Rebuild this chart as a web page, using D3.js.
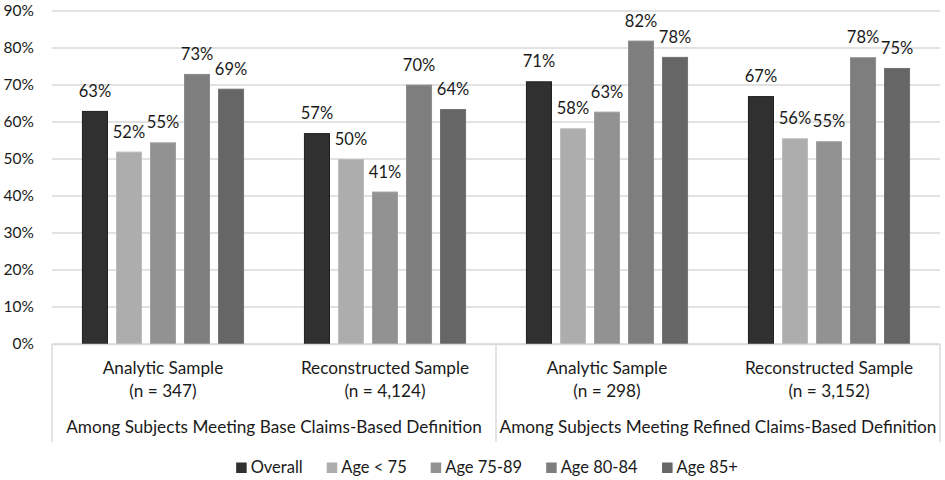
<!DOCTYPE html>
<html>
<head>
<meta charset="utf-8">
<script src="https://cdn.jsdelivr.net/npm/d3@7"></script>
<style>
  html, body { margin: 0; padding: 0; background: #fff; }
  svg { display: block; }
  text { font-family: "Lato", "Open Sans", sans-serif; fill: #1a1a1a; }
</style>
</head>
<body>
<svg id="chart" width="945" height="480"></svg>
<script>
// ---- Data ----
const sampleNames = ["Analytic Sample", "Reconstructed Sample", "Analytic Sample", "Reconstructed Sample"];
const sampleNs = ["(n = 347)", "(n = 4,124)", "(n = 298)", "(n = 3,152)"];
const groupLabels = ["Among Subjects Meeting Base Claims-Based Definition", "Among Subjects Meeting Refined Claims-Based Definition"];
const seriesNames = ["Overall", "Age < 75", "Age 75-89", "Age 80-84", "Age 85+"];
const overall  = [63, 57, 71, 67];
const ageLt75  = [52, 50, 58.3, 55.6];
const age7589  = [54.5, 41.2, 62.8, 54.8];
const age8084  = [73, 70.1, 82, 77.5];
const age85    = [69, 63.5, 77.6, 74.6];
const yTicks = [0, 10, 20, 30, 40, 50, 60, 70, 80, 90];
const seriesColors = ["#303030", "#adadad", "#929292", "#7e7e7e", "#666666"];
const seriesStroke = ["#1e1e1e", "#bcbcbc", "#a0a0a0", "#8c8c8c", "#727272"];

const seriesValues = [overall, ageLt75, age7589, age8084, age85];
const catIdx = d3.range(sampleNames.length);

// ---- Layout ----
const svg = d3.select("#chart");
const mLeft = 52, mRight = 940, mTop = 11, mBase = 344;

const y = d3.scaleLinear().domain([0, 90]).range([mBase, mTop]);
const x0 = d3.scaleBand().domain(catIdx).range([mLeft, mRight]).paddingInner(0).paddingOuter(0);
const x1 = d3.scaleBand().domain(seriesNames).range([0, x0.bandwidth()]).paddingInner(0.235).paddingOuter(0.88);

// gridlines
svg.append("g").selectAll("line").data(yTicks).join("line")
  .attr("x1", mLeft).attr("x2", mRight)
  .attr("y1", d => y(d)).attr("y2", d => y(d))
  .attr("stroke", "#d9d9d9").attr("stroke-width", 1.4);

// y axis labels
const yAxis = d3.axisLeft(y).tickValues(yTicks).tickFormat(d => d + "%").tickSize(0).tickPadding(0);
const yg = svg.append("g").attr("transform", `translate(${mLeft - 18},0)`).call(yAxis);
yg.select(".domain").remove();
yg.selectAll("text").attr("font-size", 15.5).attr("fill", "#1a1a1a").style("font-family", "Lato, 'Open Sans', sans-serif");

// bars
const cats = svg.append("g").selectAll("g").data(catIdx).join("g")
  .attr("transform", d => `translate(${x0(d)},0)`);

cats.selectAll("rect").data(c => seriesNames.map((s, i) => ({ s, i, v: seriesValues[i][c] }))).join("rect")
  .attr("x", d => x1(d.s) + 0.5)
  .attr("width", x1.bandwidth() - 1)
  .attr("y", d => y(d.v) + 0.5)
  .attr("height", d => mBase - y(d.v) - 0.5)
  .attr("fill", d => seriesColors[d.i])
  .attr("stroke", d => seriesStroke[d.i])
  .attr("stroke-width", 1);

cats.selectAll("text.val").data(c => seriesNames.map((s, i) => ({ s, i, v: seriesValues[i][c] }))).join("text")
  .attr("class", "val")
  .attr("x", d => x1(d.s) + x1.bandwidth() / 2)
  .attr("y", d => y(d.v) - 14)
  .attr("text-anchor", "middle")
  .attr("font-size", 16.5)
  .text(d => Math.round(d.v) + "%");

// x axis multi-level
const ax = svg.append("g");
ax.append("line").attr("x1", mLeft).attr("x2", mRight).attr("y1", mBase + 0.5).attr("y2", mBase + 0.5)
  .attr("stroke", "#d9d9d9").attr("stroke-width", 1.4);
ax.selectAll("line.div").data([x0(0), x0(2), mRight]).join("line")
  .attr("class", "div")
  .attr("x1", d => d).attr("x2", d => d)
  .attr("y1", mBase).attr("y2", 442)
  .attr("stroke", "#d9d9d9").attr("stroke-width", 1.4);

ax.selectAll("text.cat").data(catIdx).join("text")
  .attr("class", "cat")
  .attr("x", d => x0(d) + x0.bandwidth() / 2)
  .attr("y", 374)
  .attr("text-anchor", "middle")
  .attr("font-size", 17.2)
  .text(d => sampleNames[d]);
ax.selectAll("text.n").data(catIdx).join("text")
  .attr("class", "n")
  .attr("x", d => x0(d) + x0.bandwidth() / 2)
  .attr("y", 397)
  .attr("text-anchor", "middle")
  .attr("font-size", 17.2)
  .text(d => sampleNs[d]);
ax.selectAll("text.grp").data(groupLabels).join("text")
  .attr("class", "grp")
  .attr("x", (d, i) => (x0(i * 2) + x0(i * 2 + 1) + x0.bandwidth()) / 2)
  .attr("y", 433)
  .attr("text-anchor", "middle")
  .attr("font-size", 17.2)
  .text(d => d);

// legend
const legend = svg.append("g");
const items = legend.selectAll("g").data(seriesNames).join("g");
items.append("rect").attr("width", 10.5).attr("height", 10.5).attr("y", 462.5)
  .attr("fill", (d, i) => seriesColors[i]);
items.append("text").attr("x", 14.5).attr("y", 473).attr("font-size", 16.5).text(d => d);
const widths = [];
items.each(function () { widths.push(this.getBBox().width); });
const gap = 24;
const total = d3.sum(widths) + gap * (widths.length - 1);
let cx = 487 - total / 2;
items.attr("transform", (d, i) => { const t = `translate(${cx},0)`; cx += widths[i] + gap; return t; });
</script>
</body>
</html>
